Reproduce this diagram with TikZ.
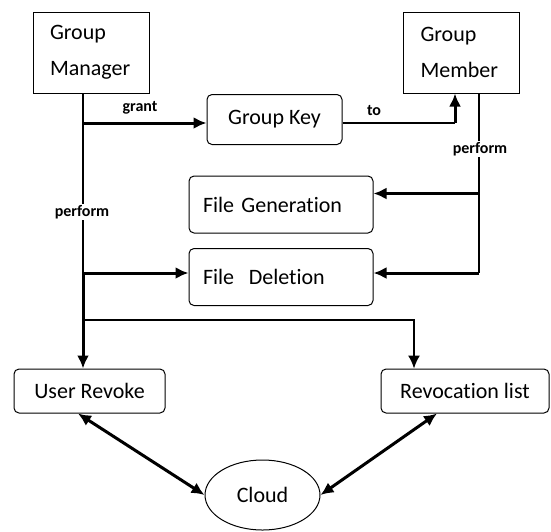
\documentclass[tikz,border=0pt]{standalone}
\usepackage{fontspec}
\setmainfont{Carlito}[Ligatures=NoCommon]
\usetikzlibrary{positioning,shapes.geometric,arrows.meta}

\begin{document}
\begin{tikzpicture}[x=1pt,y=-1pt,
    every node/.style={
    draw, line width=1pt, font=\fontsize{22}{36}\selectfont},
    party/.style={rectangle, minimum height=81pt, text width=82pt,
    inner xsep=17pt, align=left},
    task/.style={rectangle, rounded corners=5pt, minimum height=44pt},
    filebox/.style={task, minimum height=57pt, text width=156pt,
    inner xsep=14pt, align=left},
    lbl/.style={draw=none, fill=white, inner sep=1pt,
    font=\fontsize{16}{18}\selectfont\bfseries},
    line/.style={line width=1.5pt},
    strong/.style={line width=3pt, -{Latex[length=13pt,width=12pt]}},
    both/.style={line width=3pt,
    {Latex[length=13pt,width=12pt]}-{Latex[length=13pt,width=12pt]}}
    ]
    \useasboundingbox (0,0) rectangle (551,531);

    \node[party](manager) at (91,52.5) {Group\\Manager};
    \node[party](member) at (461.5,52.5) {Group\\Member};
    \node[task, minimum width=135pt, minimum height=50pt](key) at (274.5,119.5) {Group Key};
    \node[filebox](gen) at (281,204.5) {File Generation};
    \node[filebox](del) at (281,277) {File\ \ Deletion};
    \node[task, minimum width=151pt](revoke) at (89.5,391) {User Revoke};
    \node[task, minimum width=168pt](revlist) at (465,391) {Revocation list};
    \node[ellipse, minimum width=115pt, minimum height=70pt](cloud) at (262.5,495) {Cloud};

    % manager side
    \coordinate (trunk) at ([xshift=-8pt]manager.south);
    \coordinate (keyin) at ([yshift=-3.5pt]key.west);
    \coordinate (delin) at ([yshift=4pt]del.west);
    \draw[line] (trunk) -- (trunk |- delin);
    \draw[strong] (trunk |- keyin) -- (keyin);
    \draw[strong] (trunk |- delin) -- (delin);
    \draw[strong] (trunk |- delin) -- (trunk |- revoke.north);
    \coordinate (drop) at ([xshift=-51pt]revlist.north);
    \draw[line, -{Latex[length=13pt,width=12pt]}] (trunk |- 0,320) -| (drop);
    \node[lbl](grant) at (140,108) {grant};
    \node[lbl](mperform) at (82,212) {perform};

    % member side
    \coordinate (mtrunk) at ([xshift=17.5pt]member.south);
    \coordinate (keyout) at ([yshift=-3.5pt]key.east);
    \coordinate (genout) at ([yshift=11pt]gen.east);
    \coordinate (delout) at ([yshift=4pt]del.east);
    \draw[line] (keyout) -| ([xshift=-6.5pt]member.south |- keyout);
    \draw[strong] ([xshift=-6.5pt]member.south |- keyout) -- ([xshift=-6.5pt]member.south);
    \draw[line] (mtrunk) -- (mtrunk |- delout);
    \draw[strong] (mtrunk |- genout) -- (genout);
    \draw[strong] (mtrunk |- delout) -- (delout);
    \node[lbl](to) at (374,111) {to};
    \node[lbl](gperform) at (480,149) {perform};

    % cloud
    \draw[both] ([xshift=-11.5pt]revoke.south) -- (cloud.west);
    \draw[both] ([xshift=-28pt]revlist.south) -- (cloud.east);
\end{tikzpicture}
\end{document}
